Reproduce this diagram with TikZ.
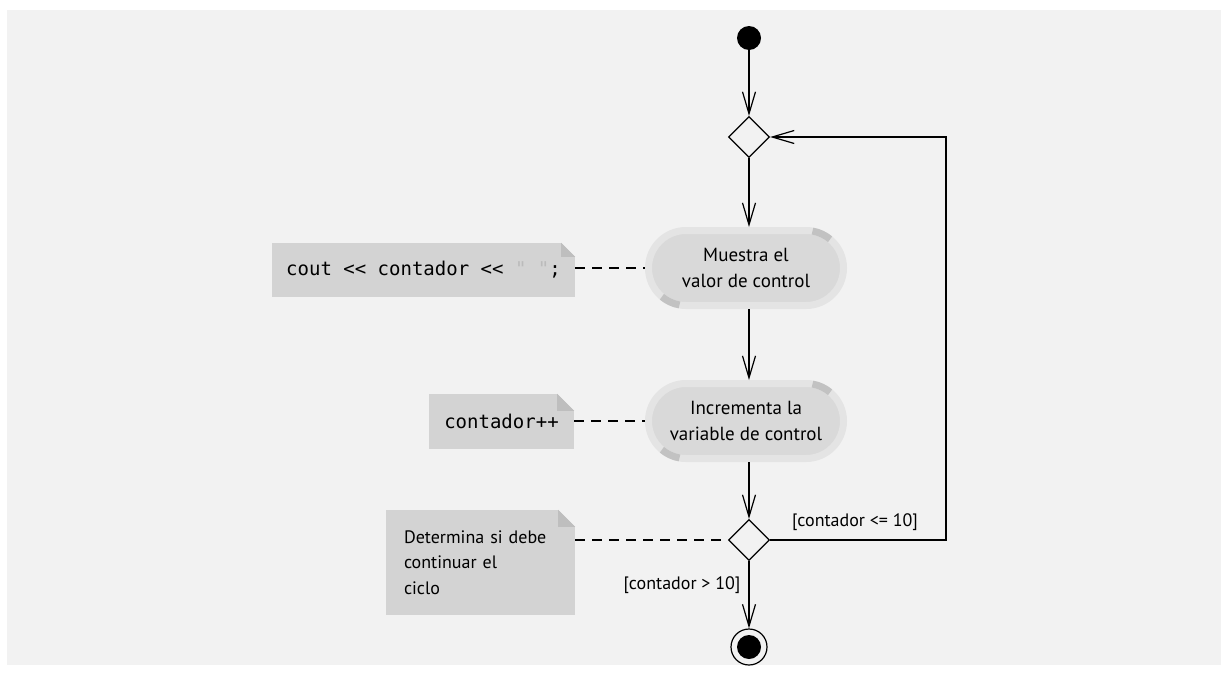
\documentclass[tikz,border=0pt]{standalone}
\usepackage{fontspec}
\setmainfont{PT Sans}
\setmonofont{DejaVu Sans Mono}
\usetikzlibrary{shapes.geometric,arrows.meta,calc}
\definecolor{panel}{HTML}{F2F2F2}
\definecolor{ring}{HTML}{E4E4E4}
\definecolor{actfill}{HTML}{D9D9D9}
\definecolor{accent}{HTML}{C2C2C2}
\definecolor{notefill}{HTML}{D3D3D3}
\definecolor{foldfill}{HTML}{BEBEBE}
\definecolor{quotegray}{HTML}{BBBBBB}
\begin{document}
\begin{tikzpicture}[x=1pt,y=-1pt,
  flow/.style={line width=1.2pt,-{Straight Barb[length=22pt,width=13pt]}},
  conn/.style={line width=1.2pt},
  notelink/.style={line width=1.2pt,dash pattern=on 10pt off 7pt},
  action/.style={rectangle,rounded corners=37.5pt,draw=ring,line width=7pt,fill=actfill,
    minimum width=195pt,minimum height=75pt,align=center,inner sep=0pt,
    font=\fontsize{19}{26}\selectfont},
  decision/.style={diamond,draw,line width=1.2pt,fill=panel,minimum width=41pt,minimum height=41pt,inner sep=0pt},
  note/.style={rectangle,fill=notefill,inner sep=0pt},
  guard/.style={font=\fontsize{18}{22}\selectfont,inner sep=0pt}
]
\useasboundingbox (0,0) rectangle (1227,675);
\fill[white] (0,0) rectangle (1227,675);
\fill[panel] (7,10) rectangle (1221,665);

% nodes
\node[circle,fill=black,minimum size=24pt,inner sep=0pt] (s) at (749,38) {};
\node[decision] (d1) at (749,137) {};
\node[action] (a1) at (746,268) {Muestra el\\valor de control};
\node[action] (a2) at (746,421) {Incrementa la\\variable de control};
\node[decision] (d2) at (749,540) {};
\node[circle,draw,line width=1.2pt,fill=panel,minimum size=36pt,inner sep=0pt,
  path picture={\fill[black] (path picture bounding box.center) circle (12pt);}] (f) at (749,647) {};

% accents on action rings
\foreach \n in {a1,a2}{
  \draw[accent,line width=7pt] ($(\n.center)+(60,0)$) ++(-80:37.5) arc[start angle=-80,end angle=-50,radius=37.5];
  \draw[accent,line width=7pt] ($(\n.center)+(-60,0)$) ++(100:37.5) arc[start angle=100,end angle=130,radius=37.5];
}

% notes
\node[note,minimum width=303pt,minimum height=54pt] (n1) at (423.5,270)
  {\fontsize{19}{24}\ttfamily cout << contador << {\color{quotegray}" "};};
\node[note,minimum width=145pt,minimum height=55pt] (n2) at (501.5,421.5)
  {\fontsize{19}{24}\ttfamily contador++};
\node[note,minimum width=189pt,minimum height=105pt,text width=153pt,align=left,
  font=\fontsize{18}{25.5}\selectfont] (n3) at (480.5,562.5)
  {Determina si debe\\continuar el\\ciclo};
\foreach \n/\f in {n1/14,n2/17,n3/17}{
  \fill[panel] ($(\n.north east)+(-\f,0)$) -- (\n.north east) -- ($(\n.north east)+(0,\f)$) -- cycle;
  \fill[foldfill] ($(\n.north east)+(-\f,0)$) -- ($(\n.north east)+(-\f,\f)$) -- ($(\n.north east)+(0,\f)$) -- cycle;
}

% flows
\draw[flow] (s) -- (d1);
\draw[flow] (d1.south) -- (d1.south |- a1.north);
\draw[flow] (d1.south |- a1.south) -- (d1.south |- a2.north);
\draw[flow] (d1.south |- a2.south) -- (d2.north);
\draw[flow] (d2.south) -- (f.north);
\coordinate (lc) at (946,540);
\draw[flow] (d2.east) -- (lc) |- (d1.east);

% note links
\draw[notelink] (n1.east |- a1.west) -- (a1.west);
\draw[notelink] (n2.east |- a2.west) -- (a2.west);
\draw[notelink] (n3.east |- d2.west) -- (d2.west);

% guards
\node[guard] (g1) at (855,522) {[contador <= 10]};
\node[guard] (g2) at (682,585) {[contador > 10]};
\end{tikzpicture}
\end{document}
